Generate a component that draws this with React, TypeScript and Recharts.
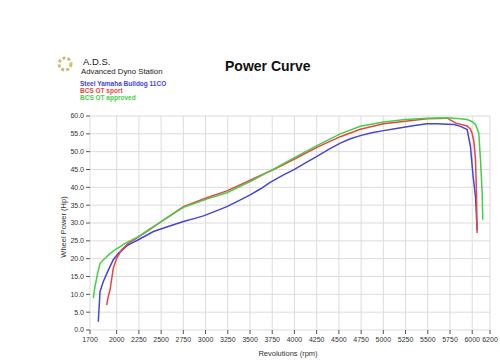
import { LineChart, Line, XAxis, YAxis, CartesianGrid } from "recharts";

const rpmTicks = [
  1700, 2000, 2250, 2500, 2750, 3000, 3250, 3500, 3750, 4000, 4250, 4500, 4750, 5000,
  5250, 5500, 5750, 6000, 6200,
];
const hpTicks = [0, 5, 10, 15, 20, 25, 30, 35, 40, 45, 50, 55, 60];

// Steel Yamaha Bulldog 11CO (blue)
const stockRpm = [
  1793, 1813, 1850, 1906, 1962, 2019, 2131, 2244, 2414, 2580, 2751, 2880, 2976, 3100, 3240,
  3370, 3502, 3620, 3727, 3877, 3990, 4120, 4253, 4390, 4516, 4630, 4741, 4870, 5004, 5130,
  5248, 5370, 5492, 5600, 5718, 5800, 5868, 5943, 5980, 6010, 6037, 6055,
];
const stockHp = [
  2.3, 10.8, 13.6, 16.8, 19.7, 21.5, 23.9, 25.3, 27.6, 29.0, 30.4, 31.3, 32.0, 33.2, 34.6,
  36.2, 37.9, 39.6, 41.4, 43.5, 44.9, 46.8, 48.7, 50.7, 52.4, 53.6, 54.5, 55.3, 55.9, 56.4,
  56.9, 57.4, 57.8, 57.8, 57.7, 57.6, 57.1, 56.2, 51.5, 43.1, 37.4, 28.0,
];

// BCS OT sport (red)
const sportRpm = [
  1888, 1905, 1925, 1945, 1962, 2000, 2056, 2131, 2282, 2400, 2526, 2751, 3014, 3240, 3502,
  3765, 3990, 4253, 4516, 4741, 5004, 5248, 5492, 5718, 5817, 5943, 5980, 6000, 6018, 6037,
  6048, 6055,
];
const sportHp = [
  7.0, 9.4, 11.2, 14.5, 17.3, 20.1, 22.5, 24.3, 26.7, 28.6, 30.8, 34.6, 37.1, 39.0, 42.0,
  45.0, 47.8, 51.2, 54.2, 56.3, 57.8, 58.5, 59.2, 59.4, 58.0, 57.2, 56.3, 55.0, 53.0, 47.7,
  38.4, 27.2,
];

// BCS OT approved (green)
const approvedRpm = [
  1737, 1756, 1785, 1813, 1869, 1925, 1982, 2094, 2244, 2339, 2526, 2751, 3014, 3240, 3502,
  3765, 3990, 4253, 4516, 4741, 5004, 5248, 5492, 5718, 5868, 5943, 6000, 6037, 6074, 6093,
  6112, 6119,
];
const approvedHp = [
  8.9, 12.2, 15.8, 18.7, 20.1, 21.4, 22.5, 24.3, 26.2, 27.8, 30.8, 34.4, 36.7, 38.5, 41.6,
  45.1, 48.2, 51.7, 55.0, 57.1, 58.3, 59.0, 59.4, 59.5, 59.2, 59.0, 58.4, 57.6, 55.2, 47.7,
  38.4, 30.9,
];

const toPoints = (rpm: number[], hp: number[]) => rpm.map((r, i) => ({ rpm: r, hp: hp[i] }));

const series = [
  { name: "Steel Yamaha Bulldog 11CO", color: "#4545d6", data: toPoints(stockRpm, stockHp) },
  { name: "BCS OT sport", color: "#e84545", data: toPoints(sportRpm, sportHp) },
  { name: "BCS OT approved", color: "#45cf45", data: toPoints(approvedRpm, approvedHp) },
];

const font = "'Liberation Sans', Arial, sans-serif";
const tickStyle = { fill: "#333", fontSize: 7, fontFamily: font };

export default function App() {
  return (
    <div
      style={{
        position: "absolute",
        left: 0,
        top: 0,
        width: 500,
        height: 364,
        background: "#fff",
        fontFamily: font,
      }}
    >
      <LineChart
        width={500}
        height={364}
        margin={{ top: 116, right: 10, left: 40, bottom: 14 }}
      >
        <CartesianGrid stroke="#dcdcdc" />
        <XAxis
          dataKey="rpm"
          type="number"
          domain={[1700, 6200]}
          ticks={rpmTicks}
          interval={0}
          allowDataOverflow
          axisLine={false}
          tickLine={{ stroke: "#555" }}
          tickSize={4}
          tickMargin={3}
          height={20}
          tick={tickStyle}
        />
        <YAxis
          type="number"
          domain={[0, 60]}
          ticks={hpTicks}
          interval={0}
          axisLine={false}
          tickLine={{ stroke: "#555" }}
          tickSize={4}
          tickMargin={2}
          width={50}
          tick={tickStyle}
          tickFormatter={(v: number) => v.toFixed(1)}
        />
        {series.map((s) => (
          <Line
            key={s.name}
            data={s.data}
            dataKey="hp"
            name={s.name}
            type="linear"
            stroke={s.color}
            strokeWidth={1.5}
            dot={false}
            isAnimationActive={false}
          />
        ))}
      </LineChart>

      <svg
        width={18}
        height={18}
        style={{ position: "absolute", left: 56, top: 55 }}
      >
        <circle cx={9} cy={9} r={6} fill="none" stroke="#d2bb7a" strokeWidth={3} strokeDasharray="3 2" />
      </svg>
      <div style={{ position: "absolute", left: 83, top: 56, fontSize: 9.5, color: "#222" }}>A.D.S.</div>
      <div style={{ position: "absolute", left: 81, top: 67, fontSize: 7.8, color: "#222" }}>
        Advanced Dyno Station
      </div>
      {series.map((s, i) => (
        <div
          key={s.name}
          style={{
            position: "absolute",
            left: 80,
            top: 80 + i * 7,
            fontSize: 6.5,
            lineHeight: "7px",
            fontWeight: "bold",
            color: s.color,
            whiteSpace: "nowrap",
          }}
        >
          {s.name}
        </div>
      ))}
      <div
        style={{
          position: "absolute",
          left: 225,
          top: 58,
          fontSize: 14,
          fontWeight: "bold",
          color: "#111",
        }}
      >
        Power Curve
      </div>
      <div
        style={{
          position: "absolute",
          left: 63,
          top: 227,
          fontSize: 7.5,
          color: "#333",
          whiteSpace: "nowrap",
          transform: "translate(-50%, -50%) rotate(-90deg)",
        }}
      >
        Wheel Power (Hp)
      </div>
      <div
        style={{
          position: "absolute",
          left: 288,
          top: 353,
          fontSize: 7.5,
          color: "#333",
          whiteSpace: "nowrap",
          transform: "translate(-50%, -50%)",
        }}
      >
        Revolutions (rpm)
      </div>
    </div>
  );
}
